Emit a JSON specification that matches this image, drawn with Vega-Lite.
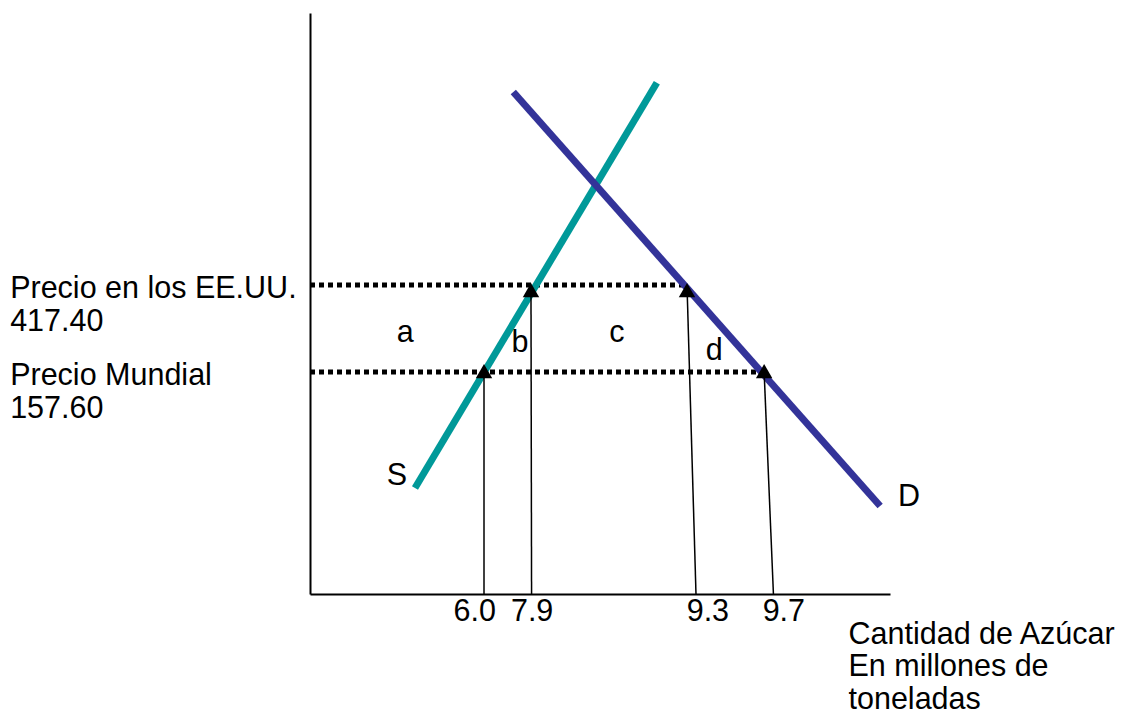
{
  "$schema": "https://vega.github.io/schema/vega-lite/v6.json",
  "width": 580,
  "height": 581,
  "autosize": {"type": "none"},
  "padding": {"left": 310, "top": 13, "right": 236, "bottom": 119},
  "background": "white",
  "config": {
    "view": {"stroke": null},
    "text": {"font": "Liberation Sans", "fontSize": 30.5, "color": "black"},
    "axis": {
      "domain": true,
      "domainColor": "black",
      "domainWidth": 2,
      "ticks": false,
      "labels": false,
      "grid": false
    }
  },
  "datasets": {
    "curvas": [
      {"curva": "S", "q": 18.1, "p": -188.5},
      {"curva": "S", "q": 59.8, "p": 1021.8},
      {"curva": "D", "q": 35.05, "p": 994.1},
      {"curva": "D", "q": 98.3, "p": -242.2}
    ],
    "precios": [
      {"nombre": "Precio en los EE.UU.", "p": 417.4, "q": 0, "q_fin": 64.3},
      {"nombre": "Precio Mundial", "p": 157.6, "q": 0, "q_fin": 77.6}
    ],
    "cantidades": [
      {"valor": 6.0, "q": 30.0, "q_eje": 30.0, "p": 157.6, "q_texto": 28.4},
      {"valor": 7.9, "q": 38.1, "q_eje": 38.2, "p": 417.4, "q_texto": 38.3},
      {"valor": 9.3, "q": 65.0, "q_eje": 66.55, "p": 417.4, "q_texto": 68.6},
      {"valor": 9.7, "q": 78.3, "q_eje": 79.9, "p": 157.6, "q_texto": 81.7}
    ],
    "etiquetas": [
      {"texto": "a", "q": 16.4, "p": 247.5},
      {"texto": "b", "q": 36.2, "p": 217.7},
      {"texto": "c", "q": 52.9, "p": 247.5},
      {"texto": "d", "q": 69.7, "p": 193.8},
      {"texto": "S", "q": 15.0, "p": -179.5},
      {"texto": "D", "q": 103.3, "p": -242.2}
    ]
  },
  "layer": [
    {
      "data": {"name": "precios"},
      "mark": {"type": "rule", "color": "black", "strokeWidth": 5, "strokeDash": [5, 4], "strokeCap": "butt"},
      "encoding": {
        "x": {"field": "q", "type": "quantitative", "scale": {"domain": [0, 100], "nice": false, "zero": false},
              "axis": {"title": ["Cantidad de Azúcar", "En millones de", "toneladas"], "titleX": 538, "titleY": 25,
                       "titleAlign": "left", "titleAnchor": null, "titleBaseline": "top", "titleFont": "Liberation Sans",
                       "titleFontSize": 30.5, "titleFontWeight": "normal", "titleColor": "black", "titleLineHeight": 32.5}},
        "x2": {"field": "q_fin"},
        "y": {"field": "p", "type": "quantitative", "scale": {"domain": [-505, 1230], "nice": false, "zero": false},
              "axis": {"title": null}}
      }
    },
    {
      "data": {"name": "curvas"},
      "mark": {"type": "line", "strokeWidth": 7, "strokeCap": "butt"},
      "encoding": {
        "x": {"field": "q", "type": "quantitative", "scale": {"domain": [0, 100], "nice": false, "zero": false}},
        "y": {"field": "p", "type": "quantitative", "scale": {"domain": [-505, 1230], "nice": false, "zero": false}},
        "color": {"field": "curva", "type": "nominal", "scale": {"domain": ["S", "D"], "range": ["#009999", "#333399"]}, "legend": null}
      }
    },
    {
      "data": {"name": "cantidades"},
      "mark": {"type": "rule", "color": "black", "strokeWidth": 1.5},
      "encoding": {
        "x": {"field": "q", "type": "quantitative", "scale": {"domain": [0, 100], "nice": false, "zero": false}},
        "x2": {"field": "q_eje"},
        "y": {"field": "p", "type": "quantitative", "scale": {"domain": [-505, 1230], "nice": false, "zero": false}},
        "y2": {"datum": -505}
      }
    },
    {
      "data": {"name": "cantidades"},
      "transform": [{"filter": "datum.p > 300"}],
      "mark": {"type": "point", "shape": "triangle-up", "filled": true, "color": "black", "opacity": 1, "size": 270, "strokeWidth": 0, "yOffset": 5},
      "encoding": {
        "x": {"field": "q", "type": "quantitative", "scale": {"domain": [0, 100], "nice": false, "zero": false}},
        "y": {"field": "p", "type": "quantitative", "scale": {"domain": [-505, 1230], "nice": false, "zero": false}}
      }
    },
    {
      "data": {"name": "cantidades"},
      "transform": [{"filter": "datum.p <= 300"}],
      "mark": {"type": "point", "shape": "triangle-up", "filled": true, "color": "black", "opacity": 1, "size": 270, "strokeWidth": 0, "yOffset": -1},
      "encoding": {
        "x": {"field": "q", "type": "quantitative", "scale": {"domain": [0, 100], "nice": false, "zero": false}},
        "y": {"field": "p", "type": "quantitative", "scale": {"domain": [-505, 1230], "nice": false, "zero": false}}
      }
    },
    {
      "data": {"name": "cantidades"},
      "mark": {"type": "text", "align": "center", "baseline": "alphabetic", "dy": 27, "clip": false},
      "encoding": {
        "x": {"field": "q_texto", "type": "quantitative", "scale": {"domain": [0, 100], "nice": false, "zero": false}},
        "y": {"datum": -505, "type": "quantitative", "scale": {"domain": [-505, 1230], "nice": false, "zero": false}},
        "text": {"field": "valor", "type": "quantitative", "format": ".1f"}
      }
    },
    {
      "data": {"name": "precios"},
      "mark": {"type": "text", "align": "left", "baseline": "alphabetic", "dy": 13, "clip": false},
      "encoding": {
        "x": {"datum": -51.7, "type": "quantitative", "scale": {"domain": [0, 100], "nice": false, "zero": false}},
        "y": {"field": "p", "type": "quantitative", "scale": {"domain": [-505, 1230], "nice": false, "zero": false}},
        "text": {"field": "nombre", "type": "nominal"}
      }
    },
    {
      "data": {"name": "precios"},
      "mark": {"type": "text", "align": "left", "baseline": "alphabetic", "dy": 46, "clip": false},
      "encoding": {
        "x": {"datum": -51.7, "type": "quantitative", "scale": {"domain": [0, 100], "nice": false, "zero": false}},
        "y": {"field": "p", "type": "quantitative", "scale": {"domain": [-505, 1230], "nice": false, "zero": false}},
        "text": {"field": "p", "type": "quantitative", "format": ".2f"}
      }
    },
    {
      "data": {"name": "etiquetas"},
      "mark": {"type": "text", "align": "center", "baseline": "alphabetic", "clip": false},
      "encoding": {
        "x": {"field": "q", "type": "quantitative", "scale": {"domain": [0, 100], "nice": false, "zero": false}},
        "y": {"field": "p", "type": "quantitative", "scale": {"domain": [-505, 1230], "nice": false, "zero": false}},
        "text": {"field": "texto", "type": "nominal"}
      }
    }
  ]
}
